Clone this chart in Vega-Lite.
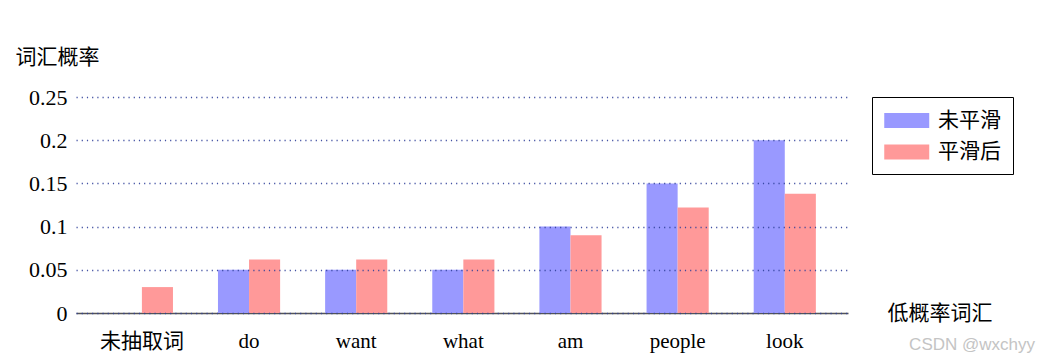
{
  "$schema": "https://vega.github.io/schema/vega-lite/v6.json",
  "autosize": "none",
  "width": 772,
  "height": 216,
  "padding": {"left": 76, "top": 97, "right": 193, "bottom": 50},
  "background": "white",
  "title": {
    "text": "CSDN @wxchyy",
    "orient": "bottom",
    "anchor": "end",
    "frame": "group",
    "font": "Liberation Sans",
    "fontSize": 17,
    "fontWeight": "normal",
    "color": "#c4c4c4",
    "dx": 187,
    "offset": -14
  },
  "data": {
    "values": [
      {"word": "未抽取词", "series": "未平滑", "value": 0},
      {"word": "未抽取词", "series": "平滑后", "value": 0.03},
      {"word": "do", "series": "未平滑", "value": 0.05},
      {"word": "do", "series": "平滑后", "value": 0.062},
      {"word": "want", "series": "未平滑", "value": 0.05},
      {"word": "want", "series": "平滑后", "value": 0.062},
      {"word": "what", "series": "未平滑", "value": 0.05},
      {"word": "what", "series": "平滑后", "value": 0.062},
      {"word": "am", "series": "未平滑", "value": 0.1},
      {"word": "am", "series": "平滑后", "value": 0.09},
      {"word": "people", "series": "未平滑", "value": 0.15},
      {"word": "people", "series": "平滑后", "value": 0.122},
      {"word": "look", "series": "未平滑", "value": 0.2},
      {"word": "look", "series": "平滑后", "value": 0.138}
    ]
  },
  "mark": {"type": "bar", "width": {"band": 1}},
  "encoding": {
    "x": {
      "field": "word",
      "type": "nominal",
      "sort": ["未抽取词", "do", "want", "what", "am", "people", "look"],
      "scale": {"paddingInner": 0.42, "paddingOuter": 0.3125, "align": 0.52},
      "axis": {
        "title": "低概率词汇",
        "titleFont": "Liberation Serif, Noto Sans CJK SC",
        "titleFontSize": 21,
        "titleFontWeight": "normal",
        "titleColor": "#000",
        "titleX": 811,
        "titleY": 0,
        "titleAlign": "left",
        "titleBaseline": "middle",
        "titleAngle": 0,
        "labelAngle": 0,
        "labelFont": "Liberation Serif, Noto Sans CJK SC",
        "labelFontSize": 21,
        "labelColor": "#000",
        "labelPadding": 17,
        "ticks": false,
        "domainColor": "#555",
        "domainWidth": 1.5,
        "grid": false
      }
    },
    "xOffset": {
      "field": "series",
      "type": "nominal",
      "sort": ["未平滑", "平滑后"]
    },
    "y": {
      "field": "value",
      "type": "quantitative",
      "scale": {"domain": [0, 0.25], "nice": false},
      "axis": {
        "title": "词汇概率",
        "titleFont": "Liberation Serif, Noto Sans CJK SC",
        "titleFontSize": 21,
        "titleFontWeight": "normal",
        "titleColor": "#000",
        "titleAngle": 0,
        "titleX": -61,
        "titleY": -40,
        "titleAlign": "left",
        "titleBaseline": "middle",
        "values": [0, 0.05, 0.1, 0.15, 0.2, 0.25],
        "format": ".2~f",
        "labelFont": "Liberation Serif",
        "labelFontSize": 22,
        "labelColor": "#000",
        "labelPadding": 9,
        "ticks": false,
        "domain": false,
        "grid": true,
        "gridColor": "#2f3f99",
        "gridDash": [1.2, 4],
        "gridWidth": 1.3,
        "gridOpacity": 0.9,
        "zindex": 1
      }
    },
    "color": {
      "field": "series",
      "type": "nominal",
      "sort": ["未平滑", "平滑后"],
      "scale": {"domain": ["未平滑", "平滑后"], "range": ["#9999ff", "#ff9999"]},
      "legend": {
        "title": null,
        "orient": "none",
        "legendX": 796,
        "legendY": 0,
        "strokeColor": "#000",
        "fillColor": "#fff",
        "padding": 12,
        "symbolType": "M-1,-0.66H3V0.66H-1Z",
        "symbolSize": 506,
        "symbolStrokeWidth": 0,
        "symbolOpacity": 1,
        "labelFont": "Noto Sans CJK SC",
        "labelFontSize": 21,
        "labelColor": "#000",
        "labelOffset": 31,
        "rowPadding": 9.5
      }
    }
  },
  "config": {
    "view": {"stroke": null}
  }
}
